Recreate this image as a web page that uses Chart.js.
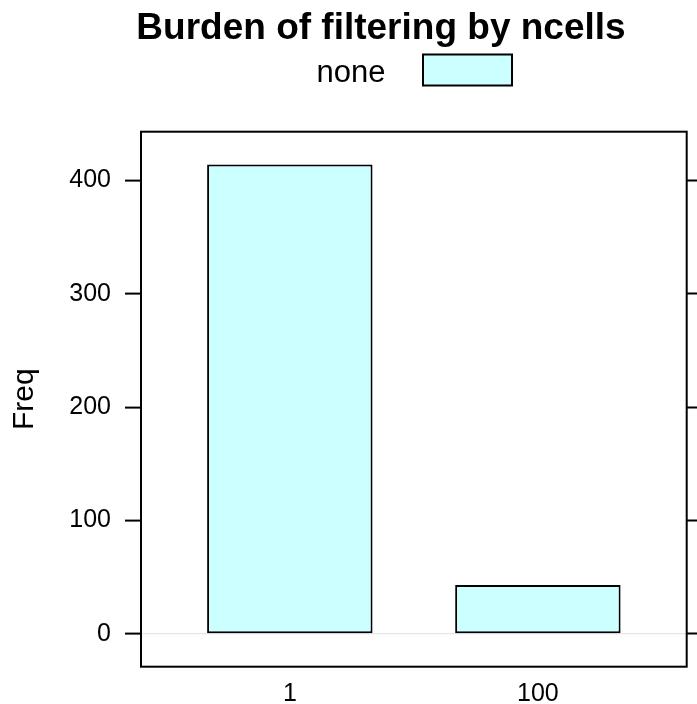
<!DOCTYPE html>
<html>
<head>
<meta charset="utf-8">
<script src="https://cdn.jsdelivr.net/npm/chart.js@4.4.0/dist/chart.umd.min.js"></script>
<style>
  body { margin: 0; background: #fff; }
  canvas { display: block; }
</style>
</head>
<body>
<canvas id="myChart" width="697" height="704"></canvas>
<script>
// data
var categories = ['1', '100'];
var freq = [414, 43];
var yTicks = [0, 100, 200, 300, 400];
var legendLabel = 'none';
var mainTitle = 'Burden of filtering by ncells';
var yTitle = 'Freq';

var FONT = "'Liberation Sans', Arial, Helvetica, sans-serif";
Chart.defaults.font.family = FONT;
Chart.defaults.color = '#000';

// lattice style range: 7% padding round the data, 0.6 each side of the categories
var freqMax = Math.max.apply(null, freq);
var yMin = -0.07 * freqMax;
var yMax = freqMax * 1.07;
var xMin = 1 - 0.6;
var xMax = categories.length + 0.6;

var points = freq.map(function (v, i) {
    return { x: i + 1, y: v };
});

function setYTicks(scale) {
    scale.ticks = yTicks.map(function (v) { return { value: v }; });
}

// title, key and panel box
var latticeDeco = {
    id: 'latticeDeco',
    afterDraw: function (chart) {
        var c = chart.ctx;
        var a = chart.chartArea;
        c.save();
        c.strokeStyle = '#000';
        c.lineWidth = 2;
        c.strokeRect(a.left, a.top, a.right - a.left, a.bottom - a.top);

        c.fillStyle = '#000';
        c.textBaseline = 'alphabetic';
        c.font = 'bold 37px ' + FONT;
        c.textAlign = 'center';
        c.fillText(mainTitle, 381, 39);

        c.font = '31px ' + FONT;
        c.textAlign = 'left';
        c.fillText(legendLabel, 316.5, 82);

        c.fillStyle = '#CCFFFF';
        c.fillRect(423, 54.5, 89, 31);
        c.lineWidth = 2;
        c.strokeRect(423, 54.5, 89, 31);
        c.restore();
    }
};

var ctx = document.getElementById('myChart');
new Chart(ctx, {
    type: 'bar',
    data: {
        datasets: [{
            label: legendLabel,
            data: points,
            backgroundColor: '#CCFFFF',
            borderColor: '#000',
            borderWidth: 2,
            borderSkipped: false,
            categoryPercentage: 1,
            barPercentage: 0.667
        }]
    },
    options: {
        responsive: false,
        animation: false,
        layout: { padding: { top: 131.7, left: 0, right: 0, bottom: 0 } },
        plugins: {
            legend: { display: false },
            title: { display: false },
            tooltip: { enabled: false }
        },
        scales: {
            x: {
                type: 'linear',
                offset: false,
                min: xMin,
                max: xMax,
                afterBuildTicks: function (scale) {
                    scale.ticks = categories.map(function (c, i) { return { value: i + 1 }; });
                },
                afterFit: function (scale) { scale.height = 37.3; },
                grid: { display: false, drawTicks: false },
                border: { display: false },
                ticks: {
                    padding: 12,
                    maxRotation: 0,
                    font: { size: 25 },
                    color: '#000',
                    callback: function (v) { return categories[v - 1]; }
                }
            },
            y: {
                type: 'linear',
                position: 'left',
                min: yMin,
                max: yMax,
                afterBuildTicks: setYTicks,
                afterFit: function (scale) { scale.width = 141; },
                border: { display: false },
                grid: {
                    color: function (c) {
                        return c.tick && c.tick.value === 0 ? '#e6e6e6' : 'rgba(0,0,0,0)';
                    },
                    lineWidth: 1.2,
                    tickColor: '#000',
                    tickLength: 16,
                    tickWidth: 2
                },
                ticks: {
                    padding: 14,
                    font: { size: 25 },
                    color: '#000'
                },
                title: {
                    display: true,
                    text: yTitle,
                    font: { size: 30 },
                    color: '#000',
                    padding: { top: 7, bottom: 0 }
                }
            },
            y2: {
                type: 'linear',
                position: 'right',
                min: yMin,
                max: yMax,
                afterBuildTicks: setYTicks,
                afterFit: function (scale) { scale.width = 10.3; },
                border: { display: false },
                grid: {
                    drawOnChartArea: false,
                    tickColor: '#000',
                    tickLength: 12,
                    tickWidth: 2
                },
                ticks: { display: false }
            }
        }
    },
    plugins: [latticeDeco]
});
</script>
</body>
</html>
